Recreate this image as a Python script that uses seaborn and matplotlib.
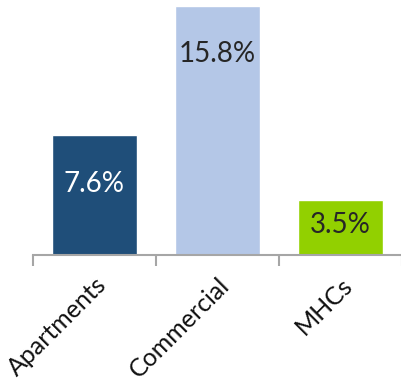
import matplotlib
matplotlib.use("Agg")
import matplotlib.pyplot as plt
import seaborn as sns
import pandas as pd

categories = ["Apartments", "Commercial", "MHCs"]
values = [7.6, 15.8, 3.5]
colors = ["#1F4E79", "#B4C7E7", "#92D000"]
label_colors = ["white", "#262626", "#262626"]

sns.set_style("white")
plt.rcParams["font.family"] = ["Lato", "DejaVu Sans"]

df = pd.DataFrame({"cat": categories, "val": values})

fig = plt.figure(figsize=(4.02, 3.8), dpi=100)
ax = fig.add_axes([33 / 402, 125 / 380, 1 - 33 / 402, 255 / 380])
sns.barplot(data=df, x="cat", y="val", hue="cat", palette=colors,
            width=0.69, legend=False, ax=ax, saturation=1)

ax.set_xlim(-0.5, 2.5)
ax.set_ylim(0, 16.15)
for s in ["top", "right", "left"]:
    ax.spines[s].set_visible(False)
ax.spines["bottom"].set_color("#A6A6A6")
ax.spines["bottom"].set_linewidth(1.5)
ax.set_yticks([])
ax.set_xlabel("")
ax.set_ylabel("")

# tick marks between categories, labels at centers
ax.set_xticks([-0.5, 0.5, 1.5, 2.5], minor=True)
ax.tick_params(axis="x", which="minor", bottom=True, length=8, width=1.5,
               color="#A6A6A6", direction="out")
ax.tick_params(axis="x", which="major", bottom=True, length=0, pad=13)
ax.set_xticks(range(len(categories)))
ax.set_xticklabels(categories, rotation=45, ha="right", va="top",
                   rotation_mode="anchor", fontsize=18, color="#111111")

for i, (v, c) in enumerate(zip(values, label_colors)):
    ax.text(i, v - min(3.1, v * 0.45), f"{v}%", ha="center", va="center",
            fontsize=20, color=c)

fig.savefig("out.png", dpi=100)
